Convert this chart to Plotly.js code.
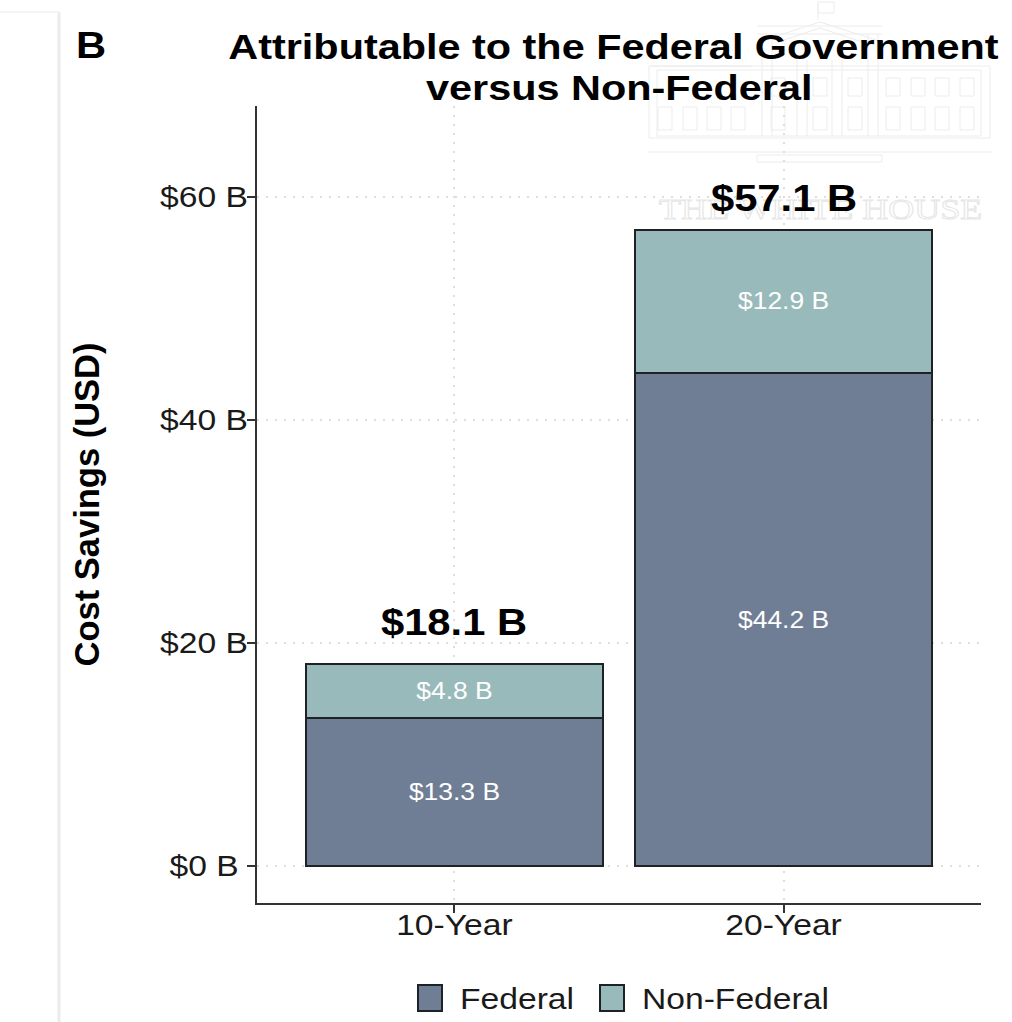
<!DOCTYPE html>
<html><head><meta charset="utf-8">
<script src="https://cdn.plot.ly/plotly-3.0.1.min.js"></script>
<style>html,body{margin:0;padding:0;background:#fff}#c{width:1012px;height:1022px}</style>
</head><body><div id="c"></div>
<script>
const categories=["10-Year","20-Year"];
const federal=[13.3,44.2];
const nonFederal=[4.8,12.9];
const totals=[18.1,57.1];
const tickVals=[0,20,40,60];
const tickText=["$0 B","$20 B","$40 B","$60 B"];
const FONT='"Liberation Sans", Arial, sans-serif';
const W=1012,H=1022,M={l:257,r:31,t:106,b:119};
const STRETCH=1.16;
const fmt=v=>"$"+v.toFixed(1)+" B";
const line={color:"#1c2226",width:2};
const bar=(name,y,color)=>({type:"bar",name,x:categories,y,width:0.905,
  marker:{color,line},text:y.map(fmt),textposition:"inside",insidetextanchor:"middle",
  textangle:0,constraintext:"none",textfont:{family:FONT,size:23,color:"#fff"},
  cliponaxis:false,hoverinfo:"name+y"});
const data=[bar("Federal",federal,"#6f7e95"),bar("Non-Federal",nonFederal,"#99baba")];

// page-pixel helpers for the decoration behind the chart
const PW=W-M.l-M.r,PH=H-M.t-M.b;
const px=x=>(x-M.l)/PW, py=y=>(H-M.b-y)/PH;
const wm={color:"#ececec",width:1};
const rect=(x0,y0,x1,y1)=>({type:"rect",xref:"paper",yref:"paper",x0:px(x0),x1:px(x1),y0:py(y0),y1:py(y1),line:wm,layer:"below"});
const seg=(x0,y0,x1,y1,l)=>({type:"line",xref:"paper",yref:"paper",x0:px(x0),x1:px(x1),y0:py(y0),y1:py(y1),line:l||wm,layer:"below"});
const shapes=[
  seg(59,12,59,1022,{color:"#ebebeb",width:3}),
  seg(0,12,59,12,{color:"#f4f4f4",width:2}),
  // building
  rect(649,66,990,138),rect(657,70,981,136),
  seg(647,152,993,152),rect(757,155,882,162),
  seg(757,26,882,26),seg(757,34,882,34),
  seg(758,42,820,22),seg(820,22,882,42),seg(778,42,820,28),seg(820,28,862,42),
  seg(818,4,818,20),rect(818,2,834,13),
  seg(762,34,762,136),seg(772,34,772,136),seg(797,60,797,136),seg(807,60,807,136),
  seg(832,60,832,136),seg(842,60,842,136),seg(868,34,868,136),seg(878,34,878,136)
];
[665,690,714,738,778,820,855,893,918,942,967].forEach(x=>{
  shapes.push(rect(x-7,107,x+7,130));
  if(x!==665&&x!==690&&x!==714&&x!==738) shapes.push(rect(x-7,78,x+7,96));
});
[665,690,714,738].forEach(x=>shapes.push(seg(x-14,66,x+14,66)));

const totalShift=[42,31];
const annotations=[
 {xref:"paper",yref:"paper",x:px(820),y:py(208),xanchor:"center",yanchor:"middle",showarrow:false,
  text:"THE WHITE HOUSE",font:{family:"Liberation Serif",size:30,color:"#fff"}},
 ...categories.map((c,i)=>({x:c,y:totals[i],yanchor:"middle",yshift:totalShift[i],showarrow:false,
  text:"<b>"+fmt(totals[i])+"</b>",font:{family:FONT,size:36,color:"#000"}})),
 {xref:"paper",yref:"paper",x:px(91),y:py(45),xanchor:"center",yanchor:"middle",showarrow:false,text:"<b>B</b>",font:{family:FONT,size:36,color:"#000"}}
];
const axisCommon={tickfont:{size:29,color:"#1a1a1a"},ticks:"outside",ticklen:8,tickcolor:"#333",tickwidth:2,
  showline:true,linecolor:"#333",linewidth:2,showgrid:true,griddash:"2px,7px",gridcolor:"#dedede",gridwidth:2,zeroline:false};
const layout={width:W,height:H,paper_bgcolor:"#fff",plot_bgcolor:"rgba(0,0,0,0)",
 margin:{...M,pad:0,autoexpand:false},barmode:"stack",
 font:{family:FONT,color:"#1a1a1a"},
 title:{text:"<b>Attributable to the Federal Government<br>versus Non-Federal</b>",x:613.5/W,xanchor:"center",yref:"container",y:0.95,yanchor:"middle",font:{family:FONT,size:36,color:"#000"}},
 xaxis:{...axisCommon,range:[-0.6,1.6],type:"category"},
 yaxis:{...axisCommon,range:[-3.3,68.18],tickvals:tickVals,ticktext:tickText,
   title:{text:"<b>Cost Savings (USD)</b>",font:{family:FONT,size:34.5,color:"#000"},standoff:55}},
 legend:{orientation:"h",x:0.5,xanchor:"center",y:-0.1,yanchor:"top",bgcolor:"rgba(0,0,0,0)",font:{family:FONT,size:29,color:"#1a1a1a"},traceorder:"normal"},
 annotations,shapes
};

function stretch(el,s,originX){
  const b=el.getBBox(), cx=originX===undefined?b.x+b.width/2:originX;
  const t=el.getAttribute("transform")||"";
  el.setAttribute("transform",`${t} translate(${cx},0) scale(${s},1) translate(${-cx},0)`);
}
Plotly.newPlot("c",data,layout,{displayModeBar:false,responsive:false}).then(gd=>{
  const q=(s,r)=>Array.from((r||gd).querySelectorAll(s));
  // title: tighter line spacing, as in the reference
  const tt=gd.querySelector(".gtitle");
  if(tt){ const ls=q("tspan.line",tt); 
    const base=59; tt.setAttribute("y",base);
    ls.forEach((l,i)=>{l.setAttribute("dy",i?"41px":"0");l.setAttribute("y",base);
      if(i) l.setAttribute("x",parseFloat(l.getAttribute("x"))+5);});
    stretch(tt,1.15); }
  // y ticks are centred in the reference
  q(".yaxislayer-above text").forEach(t=>{
    const b=t.getBBox(); t.setAttribute("x",parseFloat(t.getAttribute("x"))+(204-(b.x+b.width/2)));
    stretch(t,STRETCH);
  });
  q(".xaxislayer-above text").forEach(t=>{
    t.setAttribute("y",parseFloat(t.getAttribute("y"))-13);
    stretch(t,STRETCH);
  });
  q(".barlayer text, .bartext").forEach(t=>stretch(t,1.15));
  q(".annotation-text").forEach(t=>{
    if(t.textContent==="THE WHITE HOUSE"){t.style.fill="#fff";t.style.stroke="#e6e6e6";t.style.strokeWidth="1px";stretch(t,1.2);}
    else stretch(t,STRETCH);
  });
  // legend: reference-sized swatches and spacing
  const lg=gd.querySelector(".legend"); lg.setAttribute("transform","translate(0,0)");
  q(".scrollbox",lg).forEach(s=>{s.removeAttribute("clip-path");s.style.clipPath="none";});
  const swX=[430,612],txtX=[460,642];
  q(".traces",lg).forEach((g,i)=>{
    g.setAttribute("transform",`translate(${swX[i]-20},998)`);
    q("g.legendpoints path",g).forEach(p=>{p.setAttribute("d","M12,13H-12V-13H12Z");p.style.strokeWidth="2px";});
    const t=g.querySelector(".legendtext"); const x=txtX[i]-(swX[i]-20);
    t.setAttribute("x",x); stretch(t,1.16,x);
  });
});
</script></body></html>
